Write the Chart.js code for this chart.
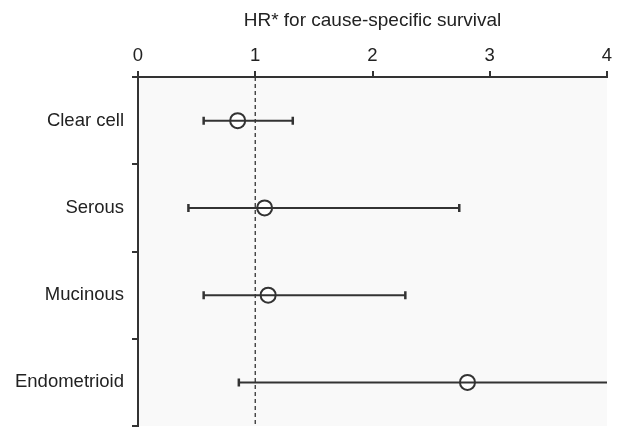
<!DOCTYPE html>
<html>
<head>
<meta charset="utf-8">
<script src="https://cdn.jsdelivr.net/npm/chart.js@4"></script>
<style>
  html, body { margin: 0; padding: 0; background: #fff; }
  #wrap { width: 617px; height: 428px; }
</style>
</head>
<body>
<div id="wrap"><canvas id="forest"></canvas></div>
<script>
// Data
const categories = ['Clear cell', 'Serous', 'Mucinous', 'Endometrioid'];
const hr = [0.85, 1.08, 1.11, 2.81];
const ciLow = [0.56, 0.43, 0.56, 0.86];
const ciHigh = [1.32, 2.74, 2.28, 4.5];   // endometrioid runs off the axis
const xTicks = [0, 1, 2, 3, 4];
const refLine = 1;

const ink = '#333333';
const font = 'Liberation Sans, Arial, sans-serif';

// one line dataset per confidence interval, caps drawn as rotated line points
const ciSets = categories.map((c, i) => ({
    type: 'line',
    data: [{ x: ciLow[i], y: c }, { x: ciHigh[i], y: c }],
    borderColor: ink,
    borderWidth: 2,
    pointStyle: 'line',
    rotation: 90,
    pointRadius: ciHigh[i] > xTicks[xTicks.length - 1] ? [4, 0] : 4,
    pointBorderColor: ink,
    pointBorderWidth: 2.5,
    pointHoverRadius: 0
}));

// light panel behind the plot + dashed reference line at HR = 1
const panelPlugin = {
    id: 'panel',
    beforeDraw(chart) {
        const { ctx, chartArea: a } = chart;
        ctx.save();
        ctx.fillStyle = '#f9f9f9';
        ctx.fillRect(a.left, a.top, a.right - a.left, a.bottom - a.top);
        ctx.restore();
    },
    beforeDatasetsDraw(chart) {
        const { ctx, chartArea: a } = chart;
        const x = chart.scales.x.getPixelForValue(refLine);
        ctx.save();
        ctx.strokeStyle = ink;
        ctx.lineWidth = 1.3;
        ctx.setLineDash([4, 3]);
        ctx.beginPath();
        ctx.moveTo(x, a.top);
        ctx.lineTo(x, a.bottom);
        ctx.stroke();
        ctx.restore();
    }
};

new Chart(document.getElementById('forest'), {
    type: 'scatter',
    data: {
        labels: categories,
        datasets: [
            ...ciSets,
            {
                type: 'scatter',
                data: categories.map((c, i) => ({ x: hr[i], y: c })),
                pointStyle: 'circle',
                pointRadius: 7.5,
                pointHoverRadius: 7.5,
                backgroundColor: '#ffffff',
                borderColor: ink,
                borderWidth: 2
            }
        ]
    },
    options: {
        responsive: true,
        maintainAspectRatio: false,
        animation: false,
        layout: { autoPadding: false, padding: { left: 0, right: 10, top: 0, bottom: 2 } },
        plugins: { legend: { display: false }, tooltip: { enabled: false } },
        scales: {
            x: {
                type: 'linear',
                position: 'top',
                min: 0,
                max: 4,
                afterBuildTicks: s => { s.ticks = xTicks.map(v => ({ value: v })); },
                ticks: { color: '#222', font: { family: font, size: 18.5 }, padding: 4 },
                grid: { drawOnChartArea: false, tickLength: 6, color: ink, lineWidth: 2 },
                border: { display: true, color: ink, width: 2 },
                title: {
                    display: true,
                    text: 'HR* for cause-specific survival',
                    color: '#222',
                    font: { family: font, size: 19 },
                    padding: { top: 9, bottom: 8 }
                },
                afterFit: s => { s.height = 77; }
            },
            y: {
                type: 'category',
                labels: categories,
                offset: true,
                ticks: { color: '#222', font: { family: font, size: 18.5 }, padding: 8 },
                grid: { drawOnChartArea: false, offset: true, tickLength: 6, color: ink, lineWidth: 2 },
                border: { display: true, color: ink, width: 2 },
                afterFit: s => { s.width = 138; s.paddingTop = 0; s.paddingBottom = 0; }
            }
        }
    },
    plugins: [panelPlugin]
});
</script>
</body>
</html>
